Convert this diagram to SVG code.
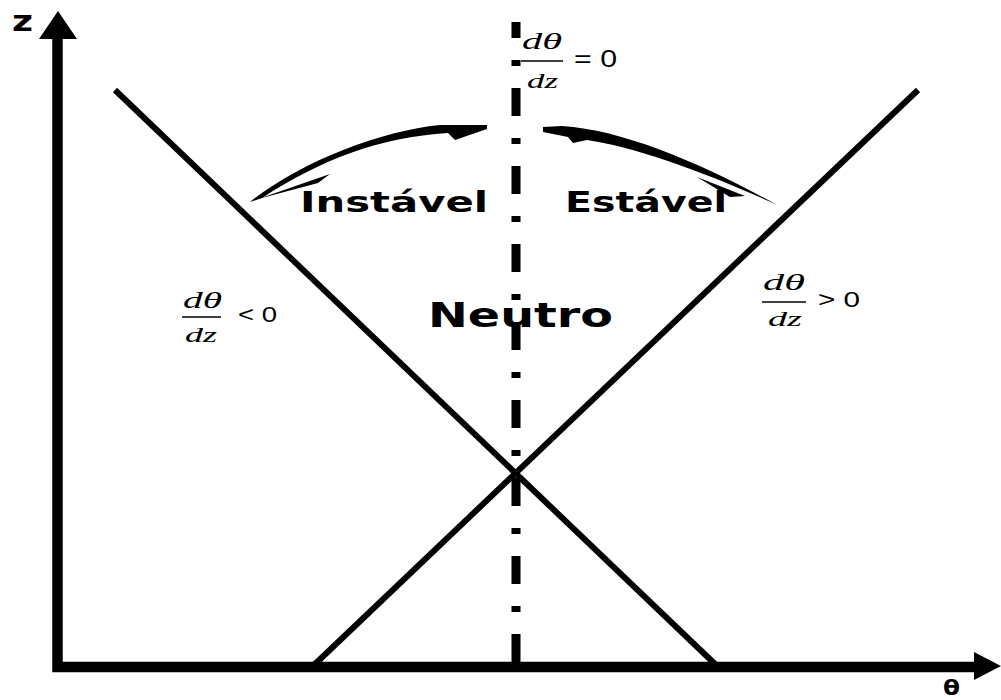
<svg xmlns="http://www.w3.org/2000/svg" width="1001" height="700" viewBox="0 0 1001 700">
  <style>
    .lbl { font-family: "DejaVu Sans", Verdana, sans-serif; font-weight: bold; fill: #000; }
    .math { font-family: "Liberation Serif", "Times New Roman", serif; font-style: italic; fill: #000; }
    .rel { font-family: "Liberation Sans", Arial, sans-serif; fill: #000; }
    .fracbar { stroke: #000; stroke-width: 1.5; }
    .line { stroke: #000; stroke-width: 6; fill: none; }
  </style>
  <rect width="1001" height="700" fill="#fff"/>

  <g id="axes">
    <path d="M57.5,36 L57.5,667 L976,667" fill="none" stroke="#000" stroke-width="10.5" stroke-linejoin="miter"/>
    <polygon points="58,11 39,39 77,39" fill="#000"/>
    <polygon points="1001,666 974,652 974,680" fill="#000"/>
    <text class="lbl" x="12" y="31" font-size="28" textLength="21" lengthAdjust="spacingAndGlyphs">z</text>
    <text class="lbl" x="943" y="695" font-size="22" textLength="17" lengthAdjust="spacingAndGlyphs">θ</text>
  </g>

  <g id="connectors">
    <line id="unstable-line" class="line" x1="115" y1="90" x2="716" y2="665"/>
    <line id="stable-line" class="line" x1="918" y1="90" x2="314" y2="665"/>
    <line id="neutral-line" x1="516" y1="22" x2="516" y2="662" stroke="#000" stroke-width="9" stroke-dasharray="28 22 6 22" stroke-dashoffset="12"/>
    <g id="arrow-left" fill="#000">
      <path d="M250,202 C300,162 380,131 440,125 L487,125 L487,129 L455,140 L448,133 C380,137 320,160 262,198 Z"/>
      <path d="M258,199 L330,174 L318,183 Z"/>
    </g>
    <g id="arrow-right" fill="#000">
      <path d="M543,127 L562,126 C625,130 705,165 777,205 C705,172 635,147 587,140 L573,143 L568,137 L543,132 Z"/>
      <path d="M697,177 L745,196 L730,197 Z"/>
    </g>
  </g>

  <g id="node-instavel">
    <text class="lbl" x="300" y="212" font-size="27.5" textLength="188" lengthAdjust="spacingAndGlyphs">Instável</text>
  </g>
  <g id="node-estavel">
    <text class="lbl" x="565" y="212" font-size="27.5" textLength="162" lengthAdjust="spacingAndGlyphs">Estável</text>
  </g>
  <g id="node-neutro">
    <text class="lbl" x="428" y="327" font-size="34" textLength="185" lengthAdjust="spacingAndGlyphs">Neutro</text>
  </g>

  <g id="node-frac-zero">
    <text class="math" x="522" y="49" font-size="23" textLength="40" lengthAdjust="spacingAndGlyphs">dθ</text>
    <line class="fracbar" x1="521" y1="61" x2="563" y2="61"/>
    <text class="math" x="527" y="88" font-size="22" textLength="31" lengthAdjust="spacingAndGlyphs">dz</text>
    <text class="rel" x="574" y="67" font-size="24" textLength="43" lengthAdjust="spacingAndGlyphs">= 0</text>
  </g>

  <g id="node-frac-neg">
    <text class="math" x="183" y="308" font-size="23" textLength="39" lengthAdjust="spacingAndGlyphs">dθ</text>
    <line class="fracbar" x1="182" y1="317" x2="221" y2="317"/>
    <text class="math" x="185" y="342" font-size="22" textLength="32" lengthAdjust="spacingAndGlyphs">dz</text>
    <text class="rel" x="238" y="322" font-size="22" textLength="39" lengthAdjust="spacingAndGlyphs">&lt; 0</text>
  </g>

  <g id="node-frac-pos">
    <text class="math" x="763" y="290" font-size="23" textLength="42" lengthAdjust="spacingAndGlyphs">dθ</text>
    <line class="fracbar" x1="762" y1="302" x2="806" y2="302"/>
    <text class="math" x="768" y="326" font-size="22" textLength="34" lengthAdjust="spacingAndGlyphs">dz</text>
    <text class="rel" x="818" y="307" font-size="22" textLength="42" lengthAdjust="spacingAndGlyphs">&gt; 0</text>
  </g>
</svg>
